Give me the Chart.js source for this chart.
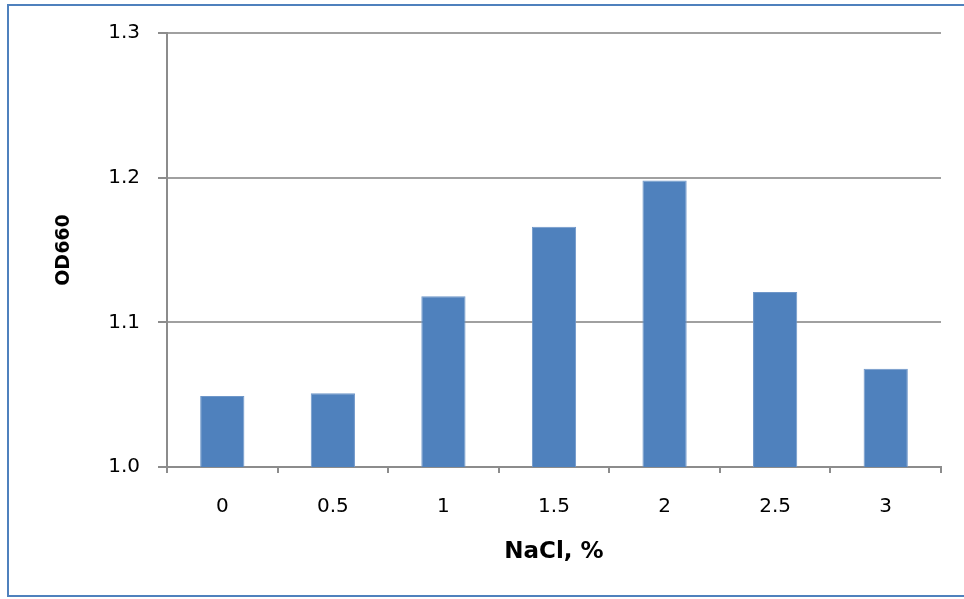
<!DOCTYPE html>
<html>
<head>
<meta charset="utf-8">
<script src="https://cdn.jsdelivr.net/npm/chart.js@4/dist/chart.umd.min.js"></script>
<style>
  html, body { margin: 0; padding: 0; background: #fff; }
  #wrap { position: relative; width: 964px; height: 599px; overflow: hidden; }
  #frame { position: absolute; left: 7px; top: 4px; width: 980px; height: 589px;
           border: 2px solid #4F81BD; box-sizing: content-box; }
  canvas { position: absolute; left: 0; top: 0; }
</style>
</head>
<body>
<div id="wrap">
  <div id="frame"></div>
  <canvas id="chart" width="964" height="599"></canvas>
</div>
<script>
// NaCl concentration (%) and the measured optical density at 660 nm
const nacl = ['0', '0.5', '1', '1.5', '2', '2.5', '3'];
const od660 = [1.049, 1.051, 1.118, 1.166, 1.198, 1.121, 1.068];
const yTicks = [1.0, 1.1, 1.2, 1.3];

const FONT = "'DejaVu Sans', sans-serif";
const AXIS_GREY = '#8c8c8c';

new Chart(document.getElementById('chart'), {
  type: 'bar',
  data: {
    labels: nacl,
    datasets: [{
      label: 'OD660',
      data: od660,
      backgroundColor: '#4F81BD',
      borderColor: '#6f97c9',
      borderWidth: 1,
      categoryPercentage: 1.0,
      barPercentage: 0.4
    }]
  },
  options: {
    responsive: false,
    animation: false,
    devicePixelRatio: 1,
    layout: { padding: { top: 33, right: 23, left: 0, bottom: 0 } },
    plugins: { legend: { display: false }, tooltip: { enabled: false } },
    scales: {
      x: {
        offset: true,
        grid: {
          offset: true,
          drawOnChartArea: false,
          drawTicks: true,
          tickLength: 6,
          color: AXIS_GREY,
          lineWidth: 2
        },
        border: { color: AXIS_GREY, width: 2 },
        ticks: { color: '#000', font: { family: FONT, size: 20 }, padding: 22 },
        title: {
          display: true, text: 'NaCl, %', color: '#000',
          font: { family: FONT, size: 23, weight: 'bold' },
          padding: { top: 0, bottom: 33 }
        },
        afterFit: (s) => { s.height = 132; }
      },
      y: {
        min: 1.0,
        max: 1.3,
        afterBuildTicks: (s) => { s.ticks = yTicks.map(v => ({ value: v })); },
        grid: {
          color: '#a0a0a0',
          lineWidth: 2,
          drawTicks: true,
          tickLength: 9,
          tickColor: AXIS_GREY
        },
        border: { color: AXIS_GREY, width: 2 },
        ticks: {
          color: '#000', font: { family: FONT, size: 20 }, padding: 18,
          callback: (v) => Number(v).toFixed(1)
        },
        title: {
          display: true, text: 'OD660', color: '#000',
          font: { family: FONT, size: 19, weight: 'bold' },
          padding: { top: 53, bottom: 0 }
        },
        afterFit: (s) => { s.width = 167; }
      }
    }
  }
});
</script>
</body>
</html>
